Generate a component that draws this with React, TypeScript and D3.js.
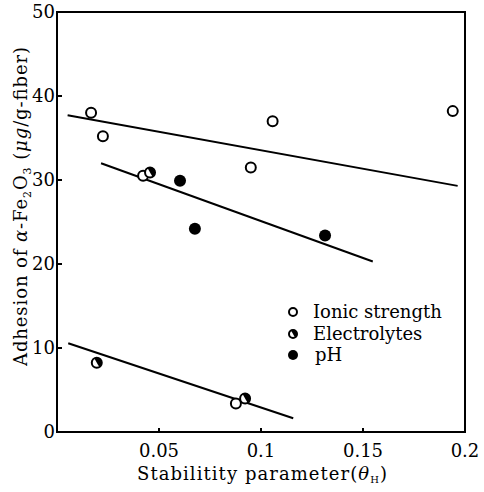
import React, { useEffect, useRef } from "react";
import * as d3 from "d3";

const ionicX = [0.0167, 0.0225, 0.0422, 0.095, 0.1057, 0.194, 0.0877];
const ionicY = [38.0, 35.2, 30.5, 31.5, 37.0, 38.2, 3.4];
const electroX = [0.0195, 0.0456, 0.0922];
const electroY = [8.25, 30.9, 4.0];
const phX = [0.0603, 0.0676, 0.1314];
const phY = [29.9, 24.2, 23.4];
const fitLines = [
  [[0.0052, 37.7], [0.1964, 29.3]],
  [[0.0216, 32.0], [0.1548, 20.3]],
  [[0.0055, 10.56], [0.1158, 1.63]],
];
const xTicks = [0.05, 0.1, 0.15, 0.2];
const xTickLabels = ["0.05", "0.1", "0.15", "0.2"];
const yTicks = [0, 10, 20, 30, 40, 50];
const legendLabels = ["Ionic strength", "Electrolytes", "pH"];

const W = 484, H = 492;
const M = { left: 57, right: 465, top: 12, bottom: 432 };
const FONT = "'DejaVu Serif', serif";

export default function App() {
  const ref = useRef<SVGSVGElement>(null);
  useEffect(() => {
    const svg = d3.select(ref.current);
    svg.selectAll("*").remove();
    const x = d3.scaleLinear().domain([0, 0.2]).range([M.left, M.right]);
    const y = d3.scaleLinear().domain([0, 50]).range([M.bottom, M.top]);

    // frame
    svg.append("rect").attr("x", M.left).attr("y", M.top)
      .attr("width", M.right - M.left).attr("height", M.bottom - M.top)
      .attr("fill", "none").attr("stroke", "#000").attr("stroke-width", 2);

    // y ticks
    const yg = svg.append("g");
    yTicks.forEach((t) => {
      yg.append("line").attr("x1", M.left).attr("x2", M.left + 5)
        .attr("y1", y(t)).attr("y2", y(t)).attr("stroke", "#000").attr("stroke-width", 2);
      yg.append("text").attr("x", M.left - 2).attr("y", y(t) + 6)
        .attr("text-anchor", "end").attr("font-family", FONT).attr("font-size", 18)
        .text(String(t));
    });
    // x ticks
    xTicks.forEach((t, i) => {
      svg.append("line").attr("x1", x(t)).attr("x2", x(t))
        .attr("y1", M.bottom).attr("y2", M.bottom - 4).attr("stroke", "#000").attr("stroke-width", 2);
      svg.append("text").attr("x", x(t)).attr("y", 457)
        .attr("text-anchor", "middle").attr("font-family", FONT).attr("font-size", 18)
        .text(xTickLabels[i]);
    });

    // x label
    const xl = svg.append("text").attr("x", 137).attr("y", 480)
      .attr("font-family", FONT).attr("font-size", 18)
      .attr("textLength", 250).attr("lengthAdjust", "spacing");
    xl.append("tspan").text("Stabilitity parameter(");
    xl.append("tspan").attr("font-style", "italic").text("θ");
    xl.append("tspan").attr("font-size", 10).attr("dy", 3).text("H");
    xl.append("tspan").attr("dy", -3).text(")");

    // y label
    const yl = svg.append("text")
      .attr("transform", `translate(27,366) rotate(-90)`)
      .attr("font-family", FONT).attr("font-size", 18)
      .attr("textLength", 319).attr("lengthAdjust", "spacing");
    yl.append("tspan").text("Adhesion of ");
    yl.append("tspan").attr("font-style", "italic").text("α");
    yl.append("tspan").text("-Fe");
    yl.append("tspan").attr("font-size", 11).attr("dy", 4).text("2");
    yl.append("tspan").attr("dy", -4).text("O");
    yl.append("tspan").attr("font-size", 11).attr("dy", 4).text("3");
    yl.append("tspan").attr("dy", -4).text(" (");
    yl.append("tspan").attr("font-style", "italic").text("μg");
    yl.append("tspan").text("/g-fiber)");

    // lines
    const lineGen = d3.line<number[]>().x((d) => x(d[0])).y((d) => y(d[1]));
    fitLines.forEach((l) => {
      svg.append("path").attr("d", lineGen(l)).attr("fill", "none")
        .attr("stroke", "#000").attr("stroke-width", 2);
    });

    const halfArc = (r: number) =>
      d3.arc()({ innerRadius: 0, outerRadius: r, startAngle: 0, endAngle: Math.PI }) as string;

    const openMarker = (g: any, cx: number, cy: number, r: number) => {
      g.append("circle").attr("cx", cx).attr("cy", cy).attr("r", r)
        .attr("fill", "#fff").attr("stroke", "#000").attr("stroke-width", 2);
    };
    const halfMarker = (g: any, cx: number, cy: number, r: number) => {
      g.append("circle").attr("cx", cx).attr("cy", cy).attr("r", r)
        .attr("fill", "#fff").attr("stroke", "#000").attr("stroke-width", 2);
      g.append("path").attr("d", halfArc(r)).attr("transform", `translate(${cx},${cy}) rotate(-30)`)
        .attr("fill", "#000");
    };
    const fullMarker = (g: any, cx: number, cy: number, r: number) => {
      g.append("circle").attr("cx", cx).attr("cy", cy).attr("r", r + 1).attr("fill", "#000");
    };

    const pts = svg.append("g");
    ionicX.forEach((v, i) => openMarker(pts, x(v), y(ionicY[i]), 5));
    electroX.forEach((v, i) => halfMarker(pts, x(v), y(electroY[i]), 5));
    phX.forEach((v, i) => fullMarker(pts, x(v), y(phY[i]), 5));

    // legend
    const lg = svg.append("g");
    const rowsY = [312, 334, 355];
    openMarker(lg, 293, rowsY[0], 4);
    halfMarker(lg, 293, rowsY[1], 4);
    fullMarker(lg, 293, rowsY[2], 4);
    legendLabels.forEach((t, i) => {
      lg.append("text").attr("x", i === 2 ? 315 : 313).attr("y", rowsY[i] + 6)
        .attr("font-family", FONT).attr("font-size", 18).text(t);
    });
  }, []);
  return (
    <svg ref={ref} width={W} height={H}
      style={{ position: "absolute", left: 0, top: 0, background: "#fff" }} />
  );
}
